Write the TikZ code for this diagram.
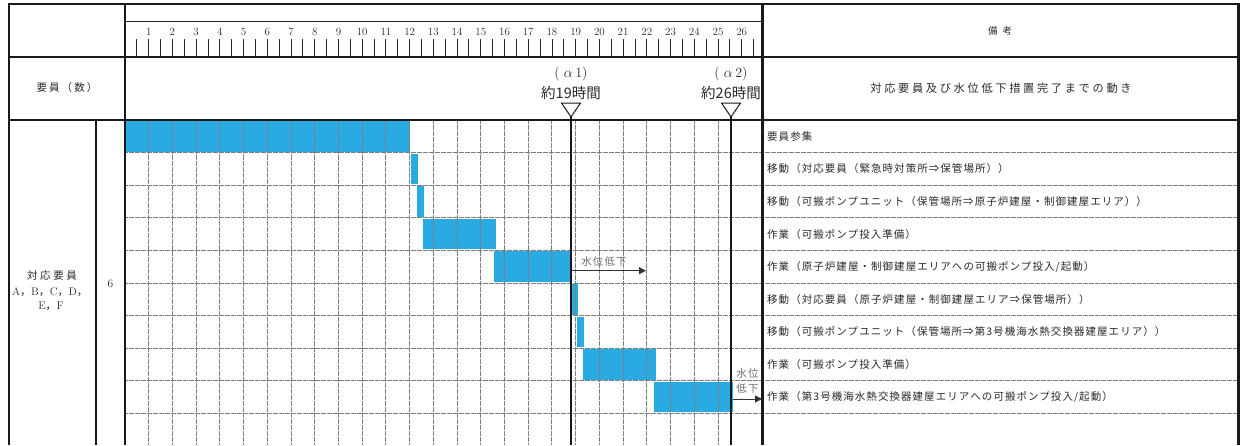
\documentclass[tikz,border=0pt]{standalone}
\usepackage{fontspec}
\newfontfamily\cjk{Noto Sans CJK JP}
\newcommand\lsp[1]{\addfontfeatures{LetterSpace=#1}}
\usetikzlibrary{arrows.meta}
\definecolor{barblue}{HTML}{29ABE2}
\definecolor{txt}{HTML}{2A2A2A}
\definecolor{gridc}{HTML}{7E7E7E}
\definecolor{wtxt}{HTML}{707070}
\begin{document}
\begin{tikzpicture}[x=1pt,y=-1pt,
  thickline/.style={line width=2.2pt,black!90},
  thinline/.style={line width=0.9pt,black!85},
  gridline/.style={line width=1pt,gridc,dash pattern=on 0.8pt off 0.4pt},
  alphaline/.style={line width=2pt,black!90},
  bar/.style={fill=barblue,draw=none},
  num/.style={inner sep=0pt,text=txt,font=\fontsize{11}{13}\selectfont},
  remark/.style={anchor=west,inner sep=0pt,text=txt,font=\cjk\lsp{10}\fontsize{10.5}{12}\selectfont},
  hdr/.style={inner sep=0pt,text=txt},
  wlabel/.style={inner sep=0pt,text=wtxt,font=\cjk\lsp{10}\fontsize{10.5}{12}\selectfont},
  warrow/.style={line width=1pt,black!80,-{Triangle[length=7pt,width=7pt]}},
  tri/.style={line width=1pt,black!90}
]
\useasboundingbox (0,0) rectangle (1245,445);
\fill[white] (0,0) rectangle (1245,445);

% bars
\foreach \a/\b/\r in {125/410/1, 411/417.7/2, 416.7/424/3, 422.7/496/4, 494.3/571.7/5, 571.7/577.7/6, 577.3/583.7/7, 583.3/656/8, 654/732.7/9}
  \fill[bar] (\a,{120+32.6*(\r-1)+1}) rectangle (\b,{120+32.6*\r-1});

% grid
\foreach \h in {1,...,25}
  \draw[gridline] ({125+23.72*\h},121) -- ({125+23.72*\h},445);
\foreach \k in {1,...,9}
  \draw[gridline] (125,{120+32.6*\k}) -- (1238,{120+32.6*\k});

% ticks and hour numbers
\foreach \i in {1,...,53}
  \draw[thinline] ({125+23.72*\i/2},39) -- ({125+23.72*\i/2},55.5);
\foreach \h in {1,...,26}
  \node[num] (n\h) at ({125+23.72*\h},32) {\h};

% frame
\draw[thickline] (9,445) -- (9,4) -- (1238.5,4) -- (1238.5,445);
\draw[thickline] (9,57) -- (1238.5,57);
\draw[thickline] (9,120) -- (1238.5,120);
\draw[thickline] (125,4) -- (125,445);
\draw[thickline] (762.5,4) -- (762.5,445);
\draw[thickline] (96,120) -- (96,445);
\draw[thinline] (125,21) -- (762.5,21);

% header texts
\node[hdr,font=\cjk\fontsize{9.5}{11}\selectfont] (bikou) at (1000,31) {備\hspace{5pt}考};
\node[hdr,font=\cjk\lsp{24}\fontsize{11.2}{13}\selectfont] (title) at (1001,88) {対応要員及び水位低下措置完了までの動き};
\node[hdr,font=\cjk\lsp{20}\fontsize{10.5}{12}\selectfont] (yoin) at (67,88) {要員（数）};

% alpha markers
\node[hdr,font=\fontsize{14}{16}\selectfont] (a1lab) at (571,74) {(\hspace{4pt}$\alpha$\hspace{2.5pt}1)};
\node[hdr,font=\cjk\fontsize{14.5}{16}\selectfont] (a1time) at (571,93) {約19時間};
\node[hdr,font=\fontsize{14}{16}\selectfont] (a2lab) at (731,74) {(\hspace{4pt}$\alpha$\hspace{2.5pt}2)};
\node[hdr,font=\cjk\fontsize{14.5}{16}\selectfont] (a2time) at (731,93) {約26時間};
\coordinate (a1top) at (571,117);
\coordinate (a1bot) at (571,445);
\coordinate (a2top) at (731,117);
\coordinate (a2bot) at (731,445);
\draw[tri] (561.5,103) -- (580.5,103) -- (a1top) -- cycle;
\draw[tri] (721.5,103) -- (740.5,103) -- (a2top) -- cycle;
\draw[alphaline] (a1top) -- (a1bot);
\draw[alphaline] (a2top) -- (a2bot);

% left labels
\node[hdr,font=\cjk\lsp{25}\fontsize{10.5}{12}\selectfont] (staff) at (52,276) {対応要員};
\node[hdr,font=\fontsize{11}{13}\selectfont] (abcd) at (50,292) {A{\cjk ，}B{\cjk ，}C{\cjk ，}D{\cjk ，}};
\node[hdr,font=\fontsize{11}{13}\selectfont] (ef) at (51,306) {E{\cjk ，}F};
\node[hdr,font=\fontsize{11.5}{13}\selectfont] (six) at (110.5,284) {6};

% remarks
\node[remark] (r1) at (767,{120+32.6*0.5}) {要員参集};
\node[remark] (r2) at (767,{120+32.6*1.5}) {移動（対応要員（緊急時対策所⇒保管場所））};
\node[remark] (r3) at (767,{120+32.6*2.5}) {移動（可搬ポンプユニット（保管場所⇒原子炉建屋・制御建屋エリア））};
\node[remark] (r4) at (767,{120+32.6*3.5}) {作業（可搬ポンプ投入準備）};
\node[remark] (r5) at (767,{120+32.6*4.5}) {作業（原子炉建屋・制御建屋エリアへの可搬ポンプ投入/起動）};
\node[remark] (r6) at (767,{120+32.6*5.5}) {移動（対応要員（原子炉建屋・制御建屋エリア⇒保管場所））};
\node[remark] (r7) at (767,{120+32.6*6.5}) {移動（可搬ポンプユニット（保管場所⇒第3号機海水熱交換器建屋エリア））};
\node[remark] (r8) at (767,{120+32.6*7.5}) {作業（可搬ポンプ投入準備）};
\node[remark] (r9) at (767,{120+32.6*8.5}) {作業（第3号機海水熱交換器建屋エリアへの可搬ポンプ投入/起動）};

% water level drop arrows
\coordinate (w1s) at (572,270.7);
\coordinate (w1e) at (646,270.7);
\draw[warrow] (w1s) -- (w1e);
\node[wlabel] (w1lab) at (604,262) {水位低下};
\coordinate (w2s) at (732.5,399);
\coordinate (w2e) at (762,399);
\draw[warrow] (w2s) -- (w2e);
\node[wlabel] (w2lab1) at (747.5,374) {水位};
\node[wlabel] (w2lab2) at (747.5,389) {低下};
\end{tikzpicture}
\end{document}
